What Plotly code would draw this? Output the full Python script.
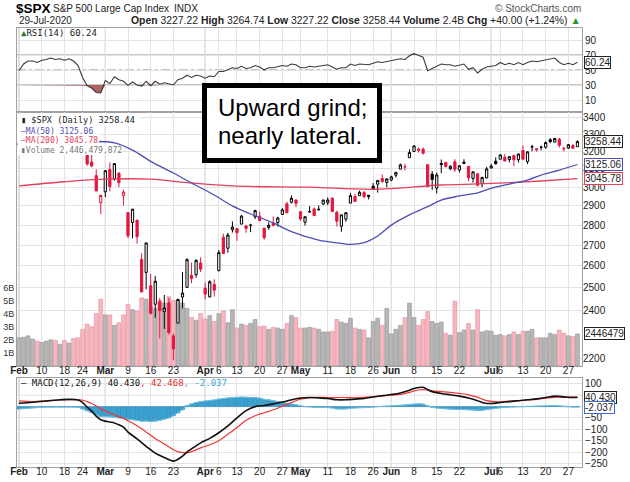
import numpy as np
import pandas as pd
import plotly.graph_objects as go

# trading days Feb 3 - Jul 29 2020 (market holidays removed)
holidays = ['2020-02-17', '2020-04-10', '2020-05-25', '2020-07-03']
days = [d for d in pd.bdate_range('2020-02-03', '2020-07-29')
        if d.strftime('%Y-%m-%d') not in holidays]
pos = {d.strftime('%m-%d'): i for i, d in enumerate(days)}
x = list(range(len(days)))

prev_close = 3225.52  # Jan 31 close

opens = [3235.66, 3280.61, 3324.91, 3344.92, 3335.54, 3318.28, 3365.87, 3370.50, 3365.90, 3378.08,
         3369.04, 3380.39, 3380.45, 3360.50, 3257.61, 3238.94, 3139.90, 3062.54, 2916.90,
         2974.28, 3096.46, 3045.75, 3075.70, 2954.20, 2863.89, 2813.48, 2825.60, 2630.86, 2569.99,
         2508.59, 2425.66, 2436.50, 2393.48, 2431.94, 2290.71, 2344.44, 2457.77, 2501.29, 2555.87,
         2558.98, 2614.69,
         2498.08, 2458.54, 2514.92, 2578.28, 2738.65, 2685.00, 2776.99, 2782.46, 2805.10, 2795.64,
         2799.34, 2842.43, 2845.62, 2784.81, 2787.89, 2810.42, 2812.64, 2854.65, 2909.96, 2918.46,
         2930.91,
         2869.09, 2815.01, 2868.88, 2883.14, 2878.26, 2908.83, 2915.46, 2939.50, 2865.86, 2794.54,
         2829.95, 2913.86, 2948.59, 2953.63, 2969.95, 2948.05, 3004.08, 3015.65, 3046.61, 3025.17,
         3038.78, 3064.78, 3098.90, 3111.56, 3163.84, 3199.92, 3213.32, 3213.42, 3123.53, 3071.04,
         2993.76, 3131.00, 3136.13, 3101.64, 3140.29, 3094.42, 3138.70, 3114.40, 3046.60, 3073.20,
         3018.59, 3050.20,
         3105.92, 3143.64, 3155.29, 3166.44, 3153.07, 3176.17, 3152.47, 3205.08, 3141.11, 3225.98,
         3208.36, 3224.21, 3224.29, 3268.52, 3254.86, 3271.64, 3218.58, 3219.84, 3234.27, 3227.22]
highs = [3268.44, 3306.92, 3337.58, 3347.96, 3341.42, 3352.26, 3375.63, 3381.47, 3385.09, 3380.69,
         3375.01, 3393.52, 3389.15, 3360.76, 3259.81, 3246.99, 3182.51, 3097.07, 2959.72,
         3090.96, 3136.72, 3130.97, 3083.04, 2985.93, 2863.89, 2882.59, 2825.60, 2660.95, 2711.33,
         2562.98, 2553.93, 2453.57, 2466.97, 2453.01, 2300.73, 2449.71, 2571.42, 2637.01, 2615.91,
         2631.80, 2641.39,
         2522.75, 2533.22, 2538.18, 2676.85, 2756.89, 2760.75, 2818.57, 2782.46, 2851.85, 2801.88,
         2806.51, 2879.22, 2868.98, 2785.54, 2815.10, 2844.90, 2842.71, 2887.72, 2921.15, 2954.86,
         2930.91,
         2869.09, 2844.24, 2898.23, 2891.11, 2901.92, 2932.16, 2944.25, 2945.82, 2874.14, 2852.80,
         2865.01, 2968.09, 2964.21, 2980.29, 2978.50, 2956.76, 3021.72, 3036.25, 3068.67, 3049.17,
         3062.18, 3081.07, 3130.94, 3128.91, 3211.72, 3233.13, 3222.71, 3223.27, 3123.53, 3088.42,
         3079.76, 3153.45, 3141.16, 3120.00, 3155.53, 3120.92, 3154.90, 3115.01, 3086.25, 3073.73,
         3053.89, 3111.51,
         3128.44, 3165.81, 3182.59, 3184.15, 3171.80, 3179.78, 3186.82, 3235.32, 3200.95, 3238.28,
         3220.39, 3233.52, 3258.61, 3277.29, 3279.32, 3279.99, 3227.26, 3241.43, 3243.72, 3264.74]
lows = [3235.66, 3280.61, 3313.75, 3334.39, 3322.12, 3317.77, 3352.72, 3369.72, 3360.52, 3366.15,
        3355.61, 3378.83, 3341.02, 3328.45, 3214.65, 3118.77, 3108.99, 2977.39, 2855.84,
        2945.19, 2976.63, 3034.38, 2999.83, 2901.54, 2734.43, 2734.00, 2707.22, 2478.86, 2492.37,
        2380.94, 2367.04, 2280.52, 2319.78, 2295.56, 2191.86, 2344.44, 2407.53, 2500.72, 2520.02,
        2545.28, 2571.15,
        2447.49, 2455.79, 2459.96, 2574.57, 2657.67, 2663.30, 2762.36, 2721.17, 2805.10, 2761.54,
        2764.32, 2830.88, 2820.43, 2727.10, 2775.95, 2794.26, 2791.76, 2852.89, 2860.71, 2912.16,
        2892.47,
        2821.61, 2797.85, 2863.55, 2847.65, 2876.48, 2902.88, 2903.44, 2869.59, 2793.15, 2766.64,
        2816.78, 2913.86, 2922.35, 2953.63, 2938.57, 2933.59, 2988.17, 2969.75, 3023.40, 2998.61,
        3031.54, 3051.64, 3098.90, 3090.41, 3163.84, 3196.00, 3193.11, 3181.49, 2999.49, 2984.47,
        2965.66, 3076.06, 3108.03, 3093.51, 3083.11, 3079.39, 3127.12, 3032.13, 3024.01, 3004.63,
        2999.74, 3047.83,
        3101.17, 3124.52, 3155.29, 3142.93, 3136.53, 3115.70, 3136.22, 3149.43, 3127.66, 3200.76,
        3198.59, 3205.65, 3215.16, 3247.77, 3253.10, 3222.66, 3200.05, 3214.25, 3216.17, 3227.22]
closes = [3248.92, 3297.59, 3334.69, 3345.78, 3327.71, 3352.09, 3357.75, 3379.45, 3373.94, 3380.16,
          3370.29, 3386.15, 3373.23, 3337.75, 3225.89, 3128.21, 3116.39, 2978.76, 2954.22,
          3090.23, 3003.37, 3130.12, 3023.94, 2972.37, 2746.56, 2882.23, 2741.38, 2480.64, 2711.02,
          2386.13, 2529.19, 2398.10, 2409.39, 2304.92, 2237.40, 2447.33, 2475.56, 2630.07, 2541.47,
          2626.65, 2584.59,
          2470.50, 2526.90, 2488.65, 2663.68, 2659.41, 2749.98, 2789.82, 2761.63, 2846.06, 2783.36,
          2799.55, 2874.56, 2823.16, 2736.56, 2799.31, 2797.80, 2836.74, 2878.48, 2863.39, 2939.51,
          2912.43,
          2830.71, 2842.74, 2868.44, 2848.42, 2881.19, 2929.80, 2930.32, 2870.12, 2820.00, 2852.50,
          2863.70, 2953.91, 2922.94, 2971.61, 2948.51, 2955.45, 2991.77, 3036.13, 3029.73, 3044.31,
          3055.73, 3080.82, 3122.87, 3112.35, 3193.93, 3232.39, 3207.18, 3190.14, 3002.10, 3041.31,
          3066.59, 3124.74, 3113.49, 3115.34, 3097.74, 3117.86, 3131.29, 3050.33, 3083.76, 3009.05,
          3053.24, 3100.29,
          3115.86, 3130.01, 3179.72, 3145.32, 3169.94, 3152.05, 3185.04, 3155.22, 3197.52, 3226.56,
          3215.57, 3224.73, 3251.84, 3257.30, 3276.02, 3235.66, 3215.63, 3239.41, 3218.44, 3258.44]

# volume in billions
volume = [2.15, 2.2, 2.3, 2.05, 1.9, 1.8, 1.9, 2.0, 1.95, 1.65, 1.95, 1.75, 2.1, 2.15, 2.8, 3.2,
          3.0, 4.0, 5.1,
          3.9, 3.9, 3.1, 3.3, 3.9, 4.7, 4.3, 4.2, 5.2, 5.1, 4.6, 4.4, 5.0, 4.8, 5.3, 5.0, 5.0, 4.8,
          4.4, 3.7, 3.5, 4.0,
          3.6, 3.85, 3.4, 4.0, 4.2, 3.3, 4.3, 2.9, 3.2, 3.1, 3.25, 3.55, 3.0, 3.05, 2.8, 2.95, 2.9,
          2.8, 3.25, 3.85, 3.7,
          2.9, 2.9, 2.95, 2.9, 2.8, 2.6, 2.6, 2.65, 3.55, 3.35, 3.25, 3.65, 2.9, 2.8, 2.75, 2.15,
          3.4, 3.65, 3.1, 4.4,
          2.45, 2.8, 3.1, 3.7, 4.8, 3.7, 3.1, 3.55, 4.15, 3.4, 3.25, 3.35, 2.5, 2.35, 4.95, 2.55,
          2.75, 3.25, 2.75, 4.3, 2.6, 2.7,
          2.65, 2.35, 2.4, 2.3, 2.4, 2.6, 2.4, 2.65, 2.65, 2.8, 2.15, 2.15, 2.15, 2.5, 2.4, 2.75,
          2.5, 2.3, 2.25, 2.446]

rsi = [49, 58, 62, 62, 60, 63, 64, 66, 64, 65, 63, 65, 62, 56, 40, 29, 26, 20, 19.5,
       36, 32, 41, 37, 35, 29.5, 34, 30, 28.5, 35, 29, 35, 31, 33, 31, 30, 37, 39, 43, 40, 43, 42,
       39, 42, 41, 48, 48, 51, 53, 52, 55, 52, 53, 56, 54, 50, 53, 53, 54, 56, 55, 58, 57,
       53, 53, 55, 54, 55, 57, 57, 54, 51, 53, 53, 58, 56, 58, 57, 57, 59, 61, 60, 61,
       62, 63, 65, 64, 69, 72, 69, 67, 49, 52, 54, 58, 57, 57, 55, 57, 58, 51, 53, 46, 51, 54,
       55, 56, 60, 57, 59, 57, 60, 57, 60, 62, 61, 62, 64, 64, 66, 60, 57, 59, 57, 60.24]

ma50_days = ['02-27', '03-04', '03-10', '03-16', '03-23', '03-27', '04-03', '04-09', '04-16',
             '04-23', '04-29', '05-07', '05-14', '05-18', '05-21', '05-27', '06-01', '06-05',
             '06-11', '06-16', '06-22', '06-26', '07-01', '07-08', '07-14', '07-17', '07-23',
             '07-29']
ma50 = [3258, 3250, 3208, 3143, 3077, 3022, 2957, 2899, 2857, 2811, 2767, 2725, 2709, 2704, 2712,
        2745, 2800, 2852, 2895, 2930, 2952, 2969, 2993, 3016, 3038, 3066, 3094, 3125.06]

ma200_days = ['02-03', '02-18', '03-02', '03-16', '03-26', '04-09', '05-05', '05-26', '06-16',
              '06-26', '07-08', '07-17', '07-29']
ma200 = [3006, 3029, 3043, 3043, 3024, 3006, 2999, 2988, 3011, 3017, 3024, 3033, 3045.78]

macd_days = ['02-03', '02-06', '02-11', '02-14', '02-19', '02-21', '02-24', '02-25', '02-26',
             '02-27', '02-28', '03-02', '03-03', '03-04', '03-05', '03-06', '03-09', '03-11',
             '03-13', '03-17', '03-19', '03-23', '03-24', '03-25', '03-26', '03-27', '03-31',
             '04-02', '04-06', '04-08', '04-13', '04-15', '04-17', '04-21', '04-23', '04-27',
             '04-29', '05-01', '05-05', '05-07', '05-11', '05-13', '05-15', '05-19', '05-21',
             '05-26', '05-28', '06-01', '06-03', '06-05', '06-08', '06-09', '06-10', '06-11',
             '06-12', '06-16', '06-18', '06-22', '06-24', '06-26', '06-29', '06-30', '07-01',
             '07-06', '07-08', '07-10', '07-14', '07-16', '07-20', '07-22', '07-23', '07-24',
             '07-28', '07-29']
macd = [15, 19, 25, 30, 32, 29, 18, -2, -20, -42, -58, -64, -68, -72, -80, -90, -112, -142,
        -175, -205, -224, -240, -232, -218, -200, -186, -160, -140, -115, -85, -50, -18, 0, 5,
        12, 20, 30, 38, 40, 38, 36, 30, 30, 33, 36, 42, 48, 53, 60, 72, 80, 84, 85, 75, 66, 58,
        52, 46, 38, 26, 18, 14, 14, 18, 22, 26, 30, 34, 40, 46, 45, 43, 40, 40.43]
signal = [25, 22, 25, 29, 31, 31, 28, 22, 14, 3, -10, -20, -28, -36, -44, -52, -62, -84, -112,
          -140, -165, -190, -198, -203, -203, -198, -182, -168, -150, -122, -92, -60, -40, -27,
          -14, 2, 18, 33, 40, 41, 40, 40, 40, 39, 41, 44, 47, 50, 54, 63, 69, 73, 75, 73, 69, 66,
          63, 58, 52, 42, 33, 26, 23, 21, 24, 26, 29, 32, 37, 41, 42, 42, 42, 42.468]
hist = [-10, -8, -7, -5, -4, -3, -2, -2, -1, -1, 0, 0, -1, -3, -10, -18, -26, -36, -44,
        -44, -44, -46, -50, -52, -56, -58, -60, -64, -63, -66, -64, -60, -55, -50, -40, -28, -14,
        4, 12, 18, 22,
        24, 27, 28, 33, 35, 38, 40, 41, 42, 41, 40, 40, 37, 32, 30, 26, 22, 18, 14, 12, 8,
        3, 0, -1, -3, -4, -3, -3, -6, -10, -11, -10, -7, -6, -5, -5, -4, -2, 0, 1, 2,
        3, 5, 6, 7, 9, 11, 12, 11, 3, -3, -6, -8, -10, -11, -12, -12, -13, -14, -15, -17, -16, -13,
        -10, -7, -4, -3, -2, -1, 0, 0, 1, 1, 2, 2, 3, 4, 5, 3, 1, -1, -2, -2.037]

tick_days = ['02-03', '02-10', '02-18', '02-24', '03-02', '03-09', '03-16', '03-23', '04-01',
             '04-06', '04-13', '04-20', '04-27', '05-01', '05-11', '05-18', '05-26', '06-01',
             '06-08', '06-15', '06-22', '07-01', '07-06', '07-13', '07-20', '07-27']
tick_labels = ['Feb', '10', '18', '24', 'Mar', '9', '16', '23', 'Apr', '6', '13', '20', '27',
               'May', '11', '18', '26', 'Jun', '8', '15', '22', 'Jul', '6', '13', '20', '27']
months = ['Feb', 'Mar', 'Apr', 'May', 'Jun', 'Jul']

SANS = 'Liberation Sans, Arial, sans-serif'
MONO = 'DejaVu Sans Mono, monospace'
RED = '#e3173e'
MA50_C = '#4e4eb4'
MA200_C = '#e2405c'
GRID = '#e3e3e3'
MONTH_GRID = '#b5b5b5'

W, H = 630, 482
L, R, T, B = 17, 582, 28, 467


def px_x(px):
    return (px - L) / (R - L)


def px_y(py):
    return (B - py) / (B - T)


tickvals = [pos[d] for d in tick_days]
ticktext = [f'<b>{t}</b>' if t in months else t for t in tick_labels]
month_x = [v for v, t in zip(tickvals, tick_labels) if t in months]

closes_prev = [prev_close] + closes[:-1]
up = [c >= p for c, p in zip(closes, closes_prev)]

fig = go.Figure()

# volume bars (base axis of the price panel)
fig.add_trace(go.Bar(
    x=x, y=volume, width=0.84,
    marker=dict(color=['#b7b7b7' if u else '#f5b7c0' for u in up],
                line=dict(color=['#8e8e8e' if u else '#e58c9b' for u in up], width=0.6)),
    xaxis='x2', yaxis='y2', showlegend=False, hoverinfo='skip',
))


def candles(flag, color):
    idx = [i for i in x if up[i] == flag]
    return go.Candlestick(
        x=idx,
        open=[opens[i] for i in idx], high=[highs[i] for i in idx],
        low=[lows[i] for i in idx], close=[closes[i] for i in idx],
        increasing=dict(line=dict(color=color, width=1), fillcolor='white'),
        decreasing=dict(line=dict(color=color, width=1), fillcolor=color),
        whiskerwidth=0, xaxis='x2', yaxis='y3', showlegend=False,
    )


fig.add_trace(go.Scatter(
    x=[pos[d] for d in ma200_days], y=ma200, mode='lines',
    line=dict(color=MA200_C, width=1.3, shape='spline'),
    xaxis='x2', yaxis='y3', showlegend=False, hoverinfo='skip',
))
fig.add_trace(go.Scatter(
    x=[pos[d] for d in ma50_days], y=ma50, mode='lines',
    line=dict(color=MA50_C, width=1.3, shape='spline'),
    xaxis='x2', yaxis='y3', showlegend=False, hoverinfo='skip',
))
fig.add_trace(candles(True, 'black'))
fig.add_trace(candles(False, RED))

# RSI panel with shaded extremes
FILL = 'rgba(150,60,60,0.8)'
fig.add_trace(go.Scatter(x=x, y=[30] * len(x), mode='lines', line=dict(width=0),
                         xaxis='x', yaxis='y', showlegend=False, hoverinfo='skip'))
fig.add_trace(go.Scatter(x=x, y=[min(v, 30) for v in rsi], mode='lines', line=dict(width=0),
                         fill='tonexty', fillcolor=FILL,
                         xaxis='x', yaxis='y', showlegend=False, hoverinfo='skip'))
fig.add_trace(go.Scatter(x=x, y=[70] * len(x), mode='lines', line=dict(width=0),
                         xaxis='x', yaxis='y', showlegend=False, hoverinfo='skip'))
fig.add_trace(go.Scatter(x=x, y=[max(v, 70) for v in rsi], mode='lines', line=dict(width=0),
                         fill='tonexty', fillcolor=FILL,
                         xaxis='x', yaxis='y', showlegend=False, hoverinfo='skip'))
fig.add_trace(go.Scatter(x=x, y=rsi, mode='lines', line=dict(color='#3a3a3a', width=1.1),
                         xaxis='x', yaxis='y', showlegend=False, hoverinfo='skip'))

# MACD panel
fig.add_trace(go.Bar(x=x, y=hist, width=0.9,
                     marker=dict(color='#36a3d5', line=dict(color='#1f78a3', width=0.5)),
                     xaxis='x3', yaxis='y4', showlegend=False, hoverinfo='skip'))
fig.add_trace(go.Scatter(x=x, y=hist, mode='lines', line=dict(color='#6cc0e3', width=1),
                         xaxis='x3', yaxis='y4', showlegend=False, hoverinfo='skip'))
fig.add_trace(go.Scatter(x=[pos[d] for d in macd_days], y=signal, mode='lines',
                         line=dict(color='#f03535', width=1.2, shape='spline'),
                         xaxis='x3', yaxis='y4', showlegend=False, hoverinfo='skip'))
fig.add_trace(go.Scatter(x=[pos[d] for d in macd_days], y=macd, mode='lines',
                         line=dict(color='#111111', width=1.6, shape='spline'),
                         xaxis='x3', yaxis='y4', showlegend=False, hoverinfo='skip'))

tickfont = dict(family=SANS, size=10, color='#222')
xcommon = dict(range=[-0.45, 124.0], tickvals=tickvals, ticktext=ticktext, tickangle=0,
               ticklabelstandoff=-5,
               showgrid=True, gridcolor=GRID, gridwidth=1, zeroline=False, showline=True,
               linecolor='#a0a0a0', mirror=True, ticks='', tickfont=tickfont, automargin=False,
               fixedrange=True)
ycommon = dict(zeroline=False, showline=True, linecolor='#a0a0a0', mirror=True, ticks='',
               gridcolor=GRID, tickfont=tickfont, automargin=False, fixedrange=True)

fig.update_layout(
    width=W, height=H,
    margin=dict(l=L, r=W - R, t=T, b=H - B, pad=0),
    paper_bgcolor='white', plot_bgcolor='white',
    showlegend=False,
    xaxis=dict(xcommon, anchor='y', showticklabels=False),
    xaxis2=dict(xcommon, anchor='y2', matches='x', rangeslider=dict(visible=False)),
    xaxis3=dict(xcommon, anchor='y4', matches='x'),
    yaxis=dict(ycommon, domain=[px_y(112), 1], anchor='x', side='right', range=[-6, 106],
               tickvals=[10, 30, 50, 70, 90]),
    yaxis2=dict(ycommon, domain=[px_y(366), px_y(112)], anchor='x2', side='left',
                range=[0, 19.4], tickvals=[1, 2, 3, 4, 5, 6],
                ticktext=['1B', '2B', '3B', '4B', '5B', '6B'], showgrid=False,
                tickfont=dict(family=SANS, size=9, color='#333')),
    # 2300 sits under the volume value box, so it is left out
    yaxis3=dict(ycommon, overlaying='y2', anchor='x2', side='right', type='log',
                range=[np.log10(2169), np.log10(3437)], showline=False,
                tickvals=[2200] + list(range(2400, 3500, 100))),
    # 50 and 0 sit under the MACD value boxes
    yaxis4=dict(ycommon, domain=[0, px_y(378)], anchor='x3', side='right', range=[-266, 126],
                tickvals=[-250, -200, -150, -100, -50, 100]),
)

# darker month separators in every panel
for m in month_x:
    for xa, ya in (('x', 'y'), ('x2', 'y2'), ('x3', 'y4')):
        fig.add_shape(type='line', xref=xa, yref=f'{ya} domain', x0=m, x1=m, y0=0, y1=1,
                      line=dict(color=MONTH_GRID, width=1), layer='below')

# RSI 70/30 bands and 50 midline
for lvl, dash in ((70, 'solid'), (30, 'solid'), (50, 'dashdot')):
    fig.add_shape(type='line', xref='x domain', yref='y', x0=0, x1=1, y0=lvl, y1=lvl,
                  line=dict(color='#8c8c8c', width=1, dash=dash), layer='below')

# MACD gridlines that lost their ticks
for lvl in (0, 50):
    fig.add_shape(type='line', xref='x3 domain', yref='y4', x0=0, x1=1, y0=lvl, y1=lvl,
                  line=dict(color=GRID, width=1), layer='below')


def rect(x0, y0, x1, y1, **kw):
    fig.add_shape(type='rect', xref='paper', yref='paper',
                  x0=px_x(x0), x1=px_x(x1), y0=px_y(y1), y1=px_y(y0), **kw)


def note(xp, yp, text, size=10, color='#222', family=SANS, anchor='left'):
    fig.add_annotation(xref='paper', yref='paper', x=px_x(xp), y=px_y(yp), text=text,
                       showarrow=False, xanchor=anchor, yanchor='middle',
                       font=dict(family=family, size=size, color=color))


# white legend backing that hides the early candles like the source chart
rect(17.5, 114, 140, 126, fillcolor='white', line=dict(width=0))
rect(17.5, 126, 99, 146, fillcolor='white', line=dict(width=0))
rect(17.5, 146, 117, 155, fillcolor='white', line=dict(width=0))

# header
chg = closes[-1] - closes[-2]
note(14, 8, '<b>$SPX</b>', size=13.5, color='black')
note(51, 9, 'S&P 500 Large Cap Index', size=10, color='#222')
note(172, 9, 'INDX', size=10, color='#222')
note(583, 8, '© StockCharts.com', size=10, color='#555', anchor='right')
note(17, 21, '29-Jul-2020', size=10, color='#222')
note(583, 21,
     f'<b>Open</b> {opens[-1]:.2f} <b>High</b> {highs[-1]:.2f} <b>Low</b> {lows[-1]:.2f} '
     f'<b>Close</b> {closes[-1]:.2f} <b>Volume</b> 2.4B <b>Chg</b> +{chg:.2f} '
     f'(+{chg / closes[-2] * 100:.2f}%) <span style="color:#2a9a2a">▲</span>',
     size=10.4, color='#222', anchor='right')

# panel legends
note(19, 33, '<span style="color:#2a7a2a">▲</span>RSI(14) 60.24', size=9, color='#222',
     family=MONO)
note(19, 120.5, '▮ $SPX (Daily) 3258.44', size=8.6, color='#222', family=MONO)
note(19, 131, '—MA(50) 3125.06', size=8, color=MA50_C, family=MONO)
note(19, 140.5, '—MA(200) 3045.78', size=8, color=MA200_C, family=MONO)
note(19, 150, '▮Volume 2,446,479,872', size=8, color='#777', family=MONO)
note(19, 383, '— MACD(12,26,9) 40.430<span style="color:#e52b2b">, 42.468</span>'
              '<span style="color:#3aa8d8">, -2.037</span>', size=9, color='#111', family=MONO)

# comment box
rect(204.5, 85.5, 379.5, 160.5, fillcolor='white', line=dict(color='black', width=5))
note(216, 107.5, 'Upward grind;', size=24, color='black')
note(216, 135.5, 'nearly lateral.', size=24, color='black')


def value_box(yref, y, text, border):
    fig.add_annotation(xref='paper', yref=yref, x=1 + 2 / (R - L), y=y, text=text,
                       showarrow=False, xanchor='left', yanchor='middle',
                       bgcolor='white', bordercolor=border, borderwidth=1, borderpad=0,
                       font=dict(family=SANS, size=10, color='#222'))


value_box('y', rsi[-1], f'{rsi[-1]:.2f}', '#222')
value_box('y3', np.log10(closes[-1]), f'{closes[-1]:.2f}', '#222')
value_box('y3', np.log10(ma50[-1]), f'{ma50[-1]:.2f}', MA50_C)
value_box('y3', np.log10(ma200[-1]), f'{ma200[-1]:.2f}', MA200_C)
value_box('y2', volume[-1], '2446479', '#222')
value_box('y4', macd[-1], f'{macd[-1]:.3f}', '#222')
value_box('y4', hist[-1], f'{hist[-1]:.3f}', '#3a6fd8')

# the default page adds an 8px body margin; drop it so the figure fills the window
fig.write_html('out.html', config={'displayModeBar': False},
               post_script="document.body.style.margin='0';"
                           "document.body.style.overflow='hidden';")
